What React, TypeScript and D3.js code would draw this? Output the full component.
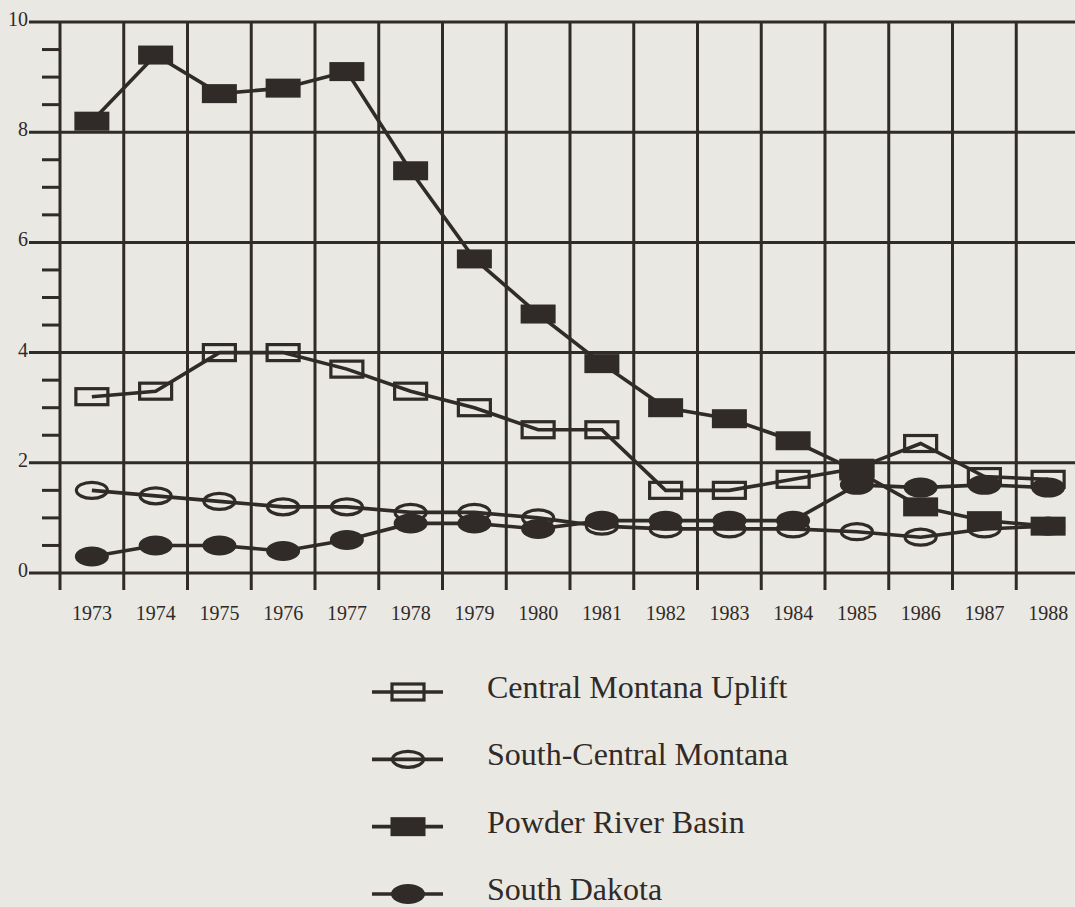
import React, { useEffect, useRef } from "react";
import * as d3 from "d3";

// values
const years = [1973, 1974, 1975, 1976, 1977, 1978, 1979, 1980, 1981, 1982, 1983, 1984, 1985, 1986, 1987, 1988];
const centralMontanaUplift = [3.2, 3.3, 4.0, 4.0, 3.7, 3.3, 3.0, 2.6, 2.6, 1.5, 1.5, 1.7, 1.9, 2.35, 1.75, 1.7];
const southCentralMontana = [1.5, 1.4, 1.3, 1.2, 1.2, 1.1, 1.1, 1.0, 0.85, 0.8, 0.8, 0.8, 0.75, 0.65, 0.8, 0.85];
const powderRiverBasin = [8.2, 9.4, 8.7, 8.8, 9.1, 7.3, 5.7, 4.7, 3.8, 3.0, 2.8, 2.4, 1.85, 1.2, 0.95, 0.85];
const southDakota = [0.3, 0.5, 0.5, 0.4, 0.6, 0.9, 0.9, 0.8, 0.95, 0.95, 0.95, 0.95, 1.6, 1.55, 1.6, 1.55];
const yTickLabels = [0, 2, 4, 6, 8, 10];
const seriesNames = ["Central Montana Uplift", "South-Central Montana", "Powder River Basin", "South Dakota"];

type Marker = "openSquare" | "openCircle" | "square" | "circle";

const WIDTH = 1075;
const HEIGHT = 907;
const INK = "#302a28";
const PAPER = "#e9e8e3";
const FONT = "Liberation Serif, Tinos, DejaVu Serif, serif";

export default function App() {
  const ref = useRef<SVGSVGElement>(null);

  useEffect(() => {
    const svg = d3.select(ref.current);
    svg.selectAll("*").remove();

    const series: { name: string; values: number[]; marker: Marker }[] = [
      { name: seriesNames[0], values: centralMontanaUplift, marker: "openSquare" },
      { name: seriesNames[1], values: southCentralMontana, marker: "openCircle" },
      { name: seriesNames[2], values: powderRiverBasin, marker: "square" },
      { name: seriesNames[3], values: southDakota, marker: "circle" },
    ];

    const x = d3.scalePoint<number>().domain(years).range([60, 1080]).padding(0.5);
    const y = d3.scaleLinear().domain([0, 10]).range([573, 22]);
    const step = x.step();

    svg.append("rect").attr("width", WIDTH).attr("height", HEIGHT).attr("fill", PAPER);

    // draws one marker at (cx, cy)
    const drawMarker = (g: d3.Selection<SVGGElement, unknown, null, undefined>, m: Marker, cx: number, cy: number) => {
      if (m === "openSquare") {
        g.append("rect").attr("x", cx - 16).attr("y", cy - 8).attr("width", 32).attr("height", 16)
          .attr("fill", "none").attr("stroke", INK).attr("stroke-width", 3.2);
      } else if (m === "square") {
        g.append("rect").attr("x", cx - 17.5).attr("y", cy - 9.5).attr("width", 35).attr("height", 19)
          .attr("fill", INK);
      } else if (m === "openCircle") {
        g.append("ellipse").attr("cx", cx).attr("cy", cy).attr("rx", 15.5).attr("ry", 8)
          .attr("fill", "none").attr("stroke", INK).attr("stroke-width", 3.2);
      } else {
        g.append("ellipse").attr("cx", cx).attr("cy", cy).attr("rx", 17).attr("ry", 10)
          .attr("fill", INK);
      }
    };

    // grid
    const grid = svg.append("g");
    grid.selectAll(".hline")
      .data(yTickLabels)
      .enter()
      .append("line")
      .attr("x1", 29).attr("x2", WIDTH)
      .attr("y1", d => y(d)).attr("y2", d => y(d))
      .attr("stroke", INK).attr("stroke-width", 3);

    const minor = d3.range(1, 20).map(i => i * 0.5).filter(v => v % 2 !== 0);
    grid.selectAll(".minor")
      .data(minor)
      .enter()
      .append("line")
      .attr("x1", 42).attr("x2", 61)
      .attr("y1", d => y(d)).attr("y2", d => y(d))
      .attr("stroke", INK).attr("stroke-width", 3);

    grid.selectAll(".vline")
      .data(years)
      .enter()
      .append("line")
      .attr("x1", d => (x(d) as number) - step / 2).attr("x2", d => (x(d) as number) - step / 2)
      .attr("y1", y(10)).attr("y2", 590)
      .attr("stroke", INK).attr("stroke-width", 3);

    // axis labels
    svg.selectAll(".ylabel")
      .data(yTickLabels)
      .enter()
      .append("text")
      .attr("x", 28)
      .attr("y", d => y(d) + 4)
      .attr("text-anchor", "end")
      .attr("font-family", FONT)
      .attr("font-size", 20)
      .attr("fill", INK)
      .text(d => d);

    svg.selectAll(".xlabel")
      .data(years)
      .enter()
      .append("text")
      .attr("x", d => x(d) as number)
      .attr("y", 620)
      .attr("text-anchor", "middle")
      .attr("font-family", FONT)
      .attr("font-size", 20)
      .attr("fill", INK)
      .text(d => d);

    // series lines and markers
    const line = d3.line<number>()
      .x((d, i) => x(years[i]) as number)
      .y(d => y(d));

    series.forEach(s => {
      const g = svg.append("g");
      g.append("path")
        .datum(s.values)
        .attr("d", line)
        .attr("fill", "none")
        .attr("stroke", INK)
        .attr("stroke-width", 3.6);
      s.values.forEach((v, i) => drawMarker(g, s.marker, x(years[i]) as number, y(v)));
    });

    // legend
    const ly = d3.scalePoint<string>().domain(seriesNames).range([692, 894]);
    series.forEach(s => {
      const g = svg.append("g");
      const cy = ly(s.name) as number;
      g.append("line")
        .attr("x1", 372).attr("x2", 443)
        .attr("y1", cy).attr("y2", cy)
        .attr("stroke", INK).attr("stroke-width", 3.6);
      drawMarker(g, s.marker, 408, cy);
      g.append("text")
        .attr("x", 487)
        .attr("y", cy + 6)
        .attr("font-family", FONT)
        .attr("font-size", 32)
        .attr("fill", INK)
        .text(s.name);
    });
  }, []);

  return (
    <svg
      ref={ref}
      width={WIDTH}
      height={HEIGHT}
      style={{ position: "absolute", left: 0, top: 0, display: "block" }}
    />
  );
}
